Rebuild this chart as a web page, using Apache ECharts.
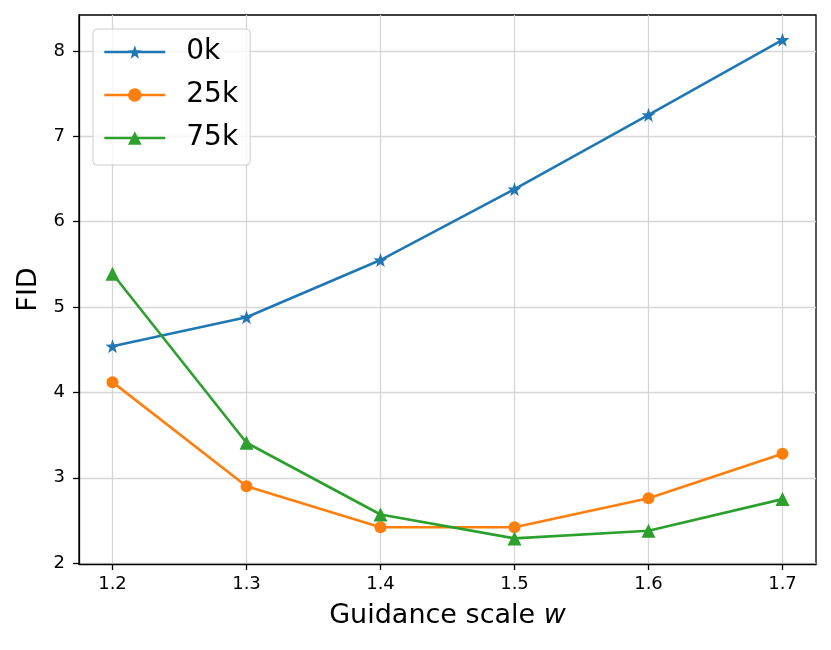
<!DOCTYPE html>
<html>
<head>
    <meta charset="utf-8">
    <title>FID vs guidance scale</title>
    <script src="https://cdn.jsdelivr.net/npm/echarts@6/dist/echarts.min.js"></script>
</head>
<body style="margin:0;background:#fff;">
    <div id="main" style="width: 831px;height:650px;"></div>
    <script type="text/javascript">
        var scales = [1.2, 1.3, 1.4, 1.5, 1.6, 1.7];
        var fid0k = [4.54, 4.88, 5.55, 6.38, 7.25, 8.13];
        var fid25k = [4.12, 2.90, 2.42, 2.42, 2.76, 3.28];
        var fid75k = [5.39, 3.41, 2.57, 2.29, 2.38, 2.75];
        var yTicks = [2, 3, 4, 5, 6, 7, 8];

        var names = ['0k', '25k', '75k'];
        var colors = ['#1f77b4', '#ff7f0e', '#2ca02c'];
        var starPath = 'path://M0,-10 L2.35,-3.24 L9.51,-3.09 L3.8,1.24 L5.88,8.09 L0,4 L-5.88,8.09 L-3.8,1.24 L-9.51,-3.09 L-2.35,-3.24 Z';
        var symbols = [starPath, 'circle', 'triangle'];
        var sizes = [14, 12, 14];
        var values = [fid0k, fid25k, fid75k];

        var font = 'DejaVu Sans';
        var myChart = echarts.init(document.getElementById('main'));

        var series = [];
        for (var i = 0; i < names.length; i++) {
            var pts = [];
            for (var j = 0; j < scales.length; j++) {
                pts.push([scales[j], values[i][j]]);
            }
            series.push({
                name: names[i],
                type: 'line',
                data: pts,
                symbol: symbols[i],
                symbolSize: sizes[i],
                showAllSymbol: true,
                color: colors[i],
                lineStyle: {width: 2.6, color: colors[i]},
                itemStyle: {color: colors[i]},
                emphasis: {disabled: true}
            });
        }

        var option = {
            animation: false,
            grid: {left: 79, right: 15, top: 15, bottom: 86, show: true, borderColor: '#000', borderWidth: 1.3},
            legend: {
                orient: 'vertical',
                left: 93,
                top: 29,
                padding: [9, 12, 13, 10],
                itemWidth: 61,
                itemHeight: 17,
                itemGap: 15,
                lineStyle: {width: 2.6},
                backgroundColor: 'rgba(255,255,255,0.8)',
                borderColor: '#cccccc',
                borderWidth: 1,
                borderRadius: 4,
                textStyle: {fontFamily: font, fontSize: 28, lineHeight: 28, color: '#000', padding: [0, 0, 0, 16]},
                data: names
            },
            xAxis: {
                type: 'value',
                min: 1.175,
                max: 1.725,
                name: '{t|Guidance scale }{w|w}',
                nameLocation: 'middle',
                nameGap: 38,
                nameTextStyle: {
                    rich: {
                        t: {fontFamily: font, fontSize: 27, color: '#000'},
                        w: {fontFamily: font, fontSize: 27, fontStyle: 'italic', color: '#000'}
                    }
                },
                axisLine: {onZero: false, lineStyle: {color: '#000', width: 1.3}},
                axisTick: {show: true, length: 6, lineStyle: {color: '#000', width: 1.3}, customValues: scales},
                axisLabel: {fontFamily: font, fontSize: 18, color: '#000', margin: 11, customValues: scales,
                    formatter: function (v) { return v.toFixed(1); }},
                splitLine: {show: true, lineStyle: {color: '#d6d6d6', width: 1.3}}
            },
            yAxis: {
                type: 'value',
                min: 1.99,
                max: 8.42,
                name: 'FID',
                nameLocation: 'middle',
                nameGap: 36,
                nameTextStyle: {fontFamily: font, fontSize: 27, color: '#000'},
                axisLine: {show: true, lineStyle: {color: '#000', width: 1.3}},
                axisTick: {show: true, length: 6, lineStyle: {color: '#000', width: 1.3}, customValues: yTicks},
                axisLabel: {fontFamily: font, fontSize: 18, color: '#000', margin: 14, customValues: yTicks},
                splitLine: {show: true, lineStyle: {color: '#d6d6d6', width: 1.3}}
            },
            series: series
        };
        myChart.setOption(option);
    </script>
</body>
</html>
